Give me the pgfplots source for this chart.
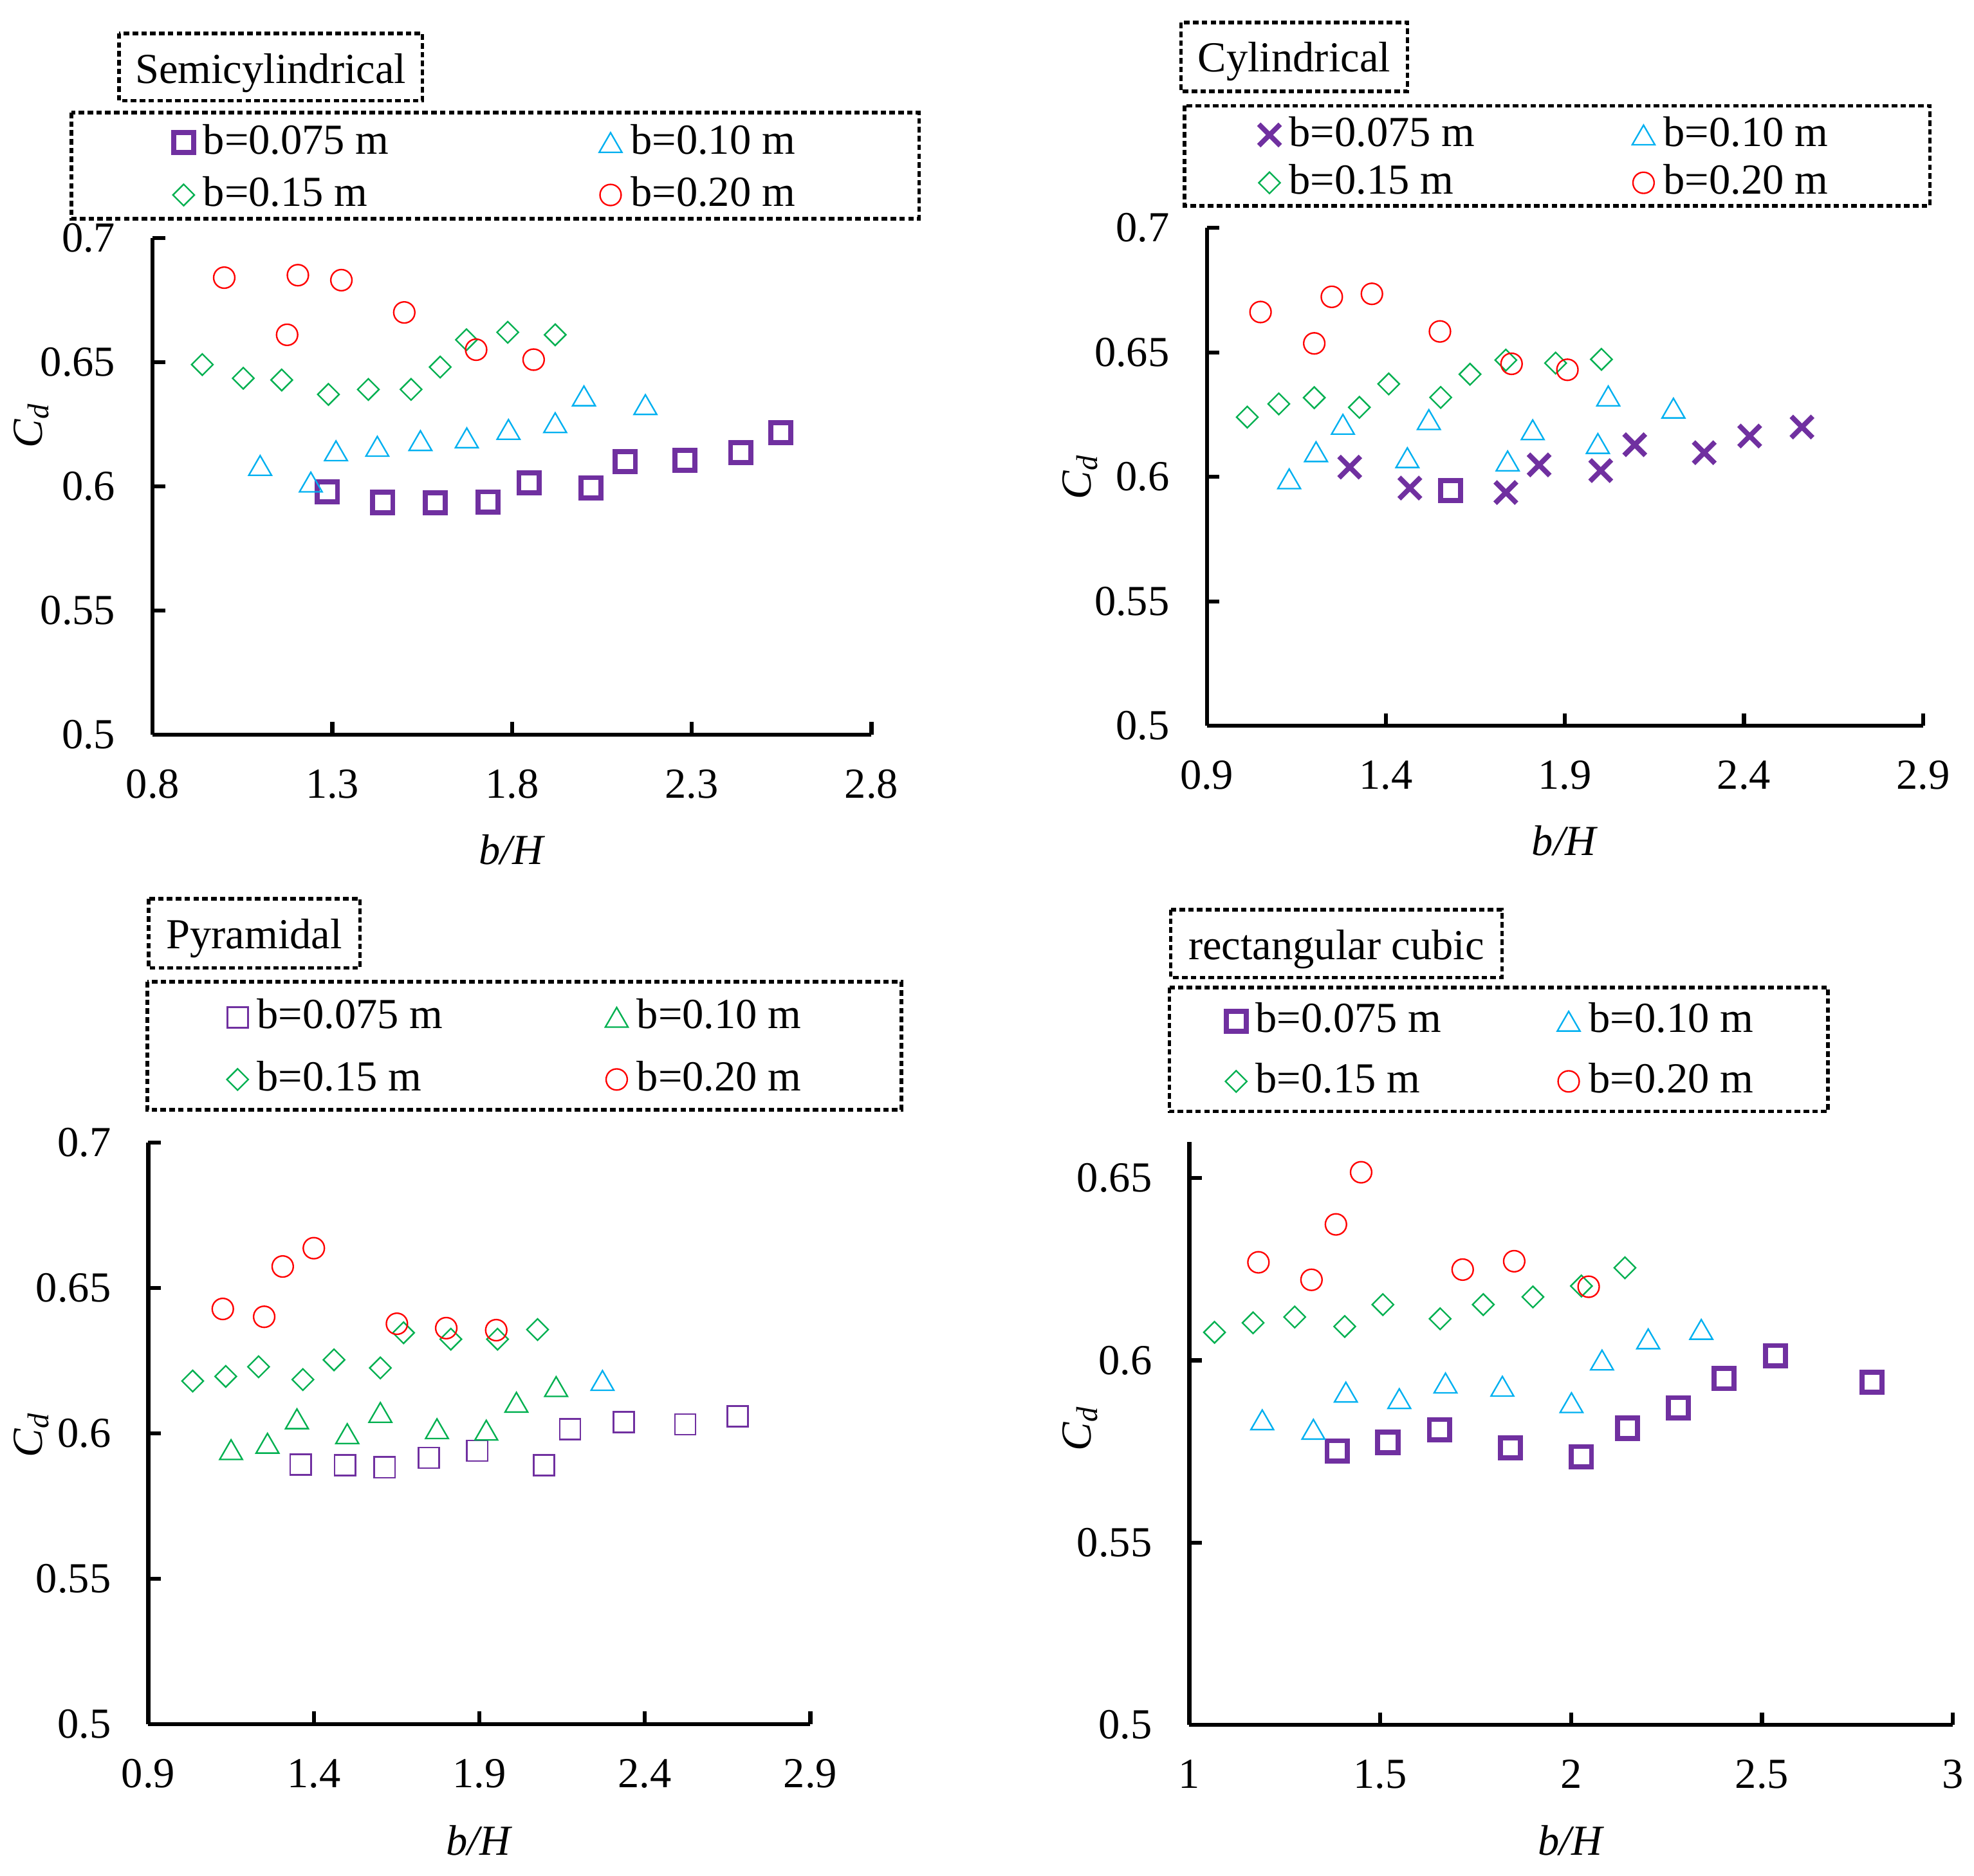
\documentclass[border=0pt]{standalone}
\usepackage{pgfplots}
\pgfplotsset{compat=1.18}
\usepackage{fontspec}
\setmainfont{Liberation Serif}
\definecolor{purp}{RGB}{112,48,160}
\definecolor{cyanx}{RGB}{0,176,240}
\definecolor{greenx}{RGB}{0,176,80}
\definecolor{redx}{RGB}{255,0,0}
\tikzset{dotbox/.style={draw=black, line width=1.4pt, dash pattern=on 2.2pt off 1.3pt}}
\pgfplotsset{
  myaxis/.style={
    scale only axis, axis lines*=left, clip=false,
    axis line style={line width=1.6pt, black, -},
    tick align=inside, major tick length=5pt,
    tick style={line width=1.6pt, black},
    /pgf/number format/assume math mode=true,
    ymin=0.5, ymax=0.7,
    ytick={0.5,0.55,0.6,0.65,0.7}, yticklabels={0.5,0.55,0.6,0.65,0.7},
    yticklabel style={xshift=-9pt},
    xticklabel style={yshift=-8pt},
    ylabel={\textit{C}\textsubscript{\textit{d}}},
    xlabel={\textit{b/H}},
    legend columns=2,
    legend style={draw=none, fill=none, inner sep=0pt, anchor=north west,
      nodes={inner xsep=3.5pt, inner ysep=0pt, text height=12.5pt, text depth=3.5pt}},
    legend image code/.code={\draw[#1] plot coordinates {(0pt,0pt)};},
    legend cell align=left,
    font=\fontsize{17}{20}\selectfont,
  },
  sqthick/.style={only marks, mark=square, mark size=4pt, draw=purp, mark options={line width=2pt, solid, fill=none}},
  xthick/.style={only marks, mark=x, mark size=6pt, draw=purp, mark options={line width=2pt, solid}},
  sqthin/.style={only marks, mark=square, mark size=4.1pt, draw=purp, mark options={line width=0.7pt, solid, fill=none}},
  tricy/.style={only marks, mark=triangle, mark size=5.2pt, draw=cyanx, mark options={line width=0.6pt, solid, fill=none, yshift=-1.3pt}},
  trigr/.style={only marks, mark=triangle, mark size=5.2pt, draw=greenx, mark options={line width=0.6pt, solid, fill=none, yshift=-1.3pt}},
  diagr/.style={only marks, mark=square, mark size=3pt, draw=greenx, mark options={line width=0.6pt, solid, fill=none, rotate=45}},
  cirrd/.style={only marks, mark=o, mark size=4.2pt, draw=redx, mark options={line width=0.6pt, solid, fill=none}},
}
\begin{document}
\begin{tikzpicture}
\path[use as bounding box] (0pt,0pt) rectangle (784pt,-745pt);
\fontsize{17}{20}\selectfont
% ---------------- Panel 1: Semicylindrical
\begin{axis}[myaxis, at={(60.65pt,-291.8pt)}, anchor=south west,
  width=285.45pt, height=197.3pt,
  xmin=0.8, xmax=2.8, xtick={0.8,1.3,1.8,2.3,2.8}, xticklabels={0.8,1.3,1.8,2.3,2.8},
  every axis y label/.style={at={(axis description cs:-0.169,0.622)}, rotate=90, anchor=center},
  every axis x label/.style={at={(axis description cs:0.5,-0.232)}, anchor=center},
  legend style={at={(axis description cs:0.0275,1.2337)},
    /tikz/every even column/.append style={column sep=80pt}, row sep=4.85pt}]
\addplot[sqthick] coordinates {(1.286,0.5978) (1.44,0.5935) (1.586,0.5933) (1.733,0.5937) (1.847,0.6014) (2.02,0.5994) (2.115,0.610) (2.281,0.6105) (2.436,0.6136) (2.548,0.6216)};
\addlegendentry{b=0.075 m}
\addplot[tricy] coordinates {(1.099,0.6084) (1.24,0.6017) (1.31,0.6143) (1.425,0.6161) (1.545,0.6184) (1.674,0.6195) (1.79,0.6229) (1.92,0.6256) (2.0,0.6364) (2.171,0.6329)};
\addlegendentry{b=0.10 m}
\addplot[diagr] coordinates {(0.938,0.649) (1.052,0.6435) (1.159,0.6428) (1.289,0.637) (1.4,0.639) (1.519,0.639) (1.6,0.648) (1.673,0.659) (1.788,0.662) (1.92,0.661)};
\addlegendentry{b=0.15 m}
\addplot[cirrd] coordinates {(0.999,0.684) (1.174,0.661) (1.204,0.685) (1.325,0.683) (1.5,0.670) (1.70,0.655) (1.86,0.651)};
\addlegendentry{b=0.20 m}
\end{axis}
% ---------------- Panel 2: Cylindrical
\begin{axis}[myaxis, at={(479.3pt,-288.3pt)}, anchor=south west,
  width=284.45pt, height=197.8pt,
  xmin=0.9, xmax=2.9, xtick={0.9,1.4,1.9,2.4,2.9}, xticklabels={0.9,1.4,1.9,2.4,2.9},
  every axis y label/.style={at={(axis description cs:-0.177,0.5)}, rotate=90, anchor=center},
  every axis x label/.style={at={(axis description cs:0.5,-0.231)}, anchor=center},
  legend style={at={(axis description cs:0.0719,1.228)},
    /tikz/every even column/.append style={column sep=59pt}, row sep=3pt}]
\addplot[xthick] coordinates {(1.299,0.6039) (1.467,0.5955) (1.735,0.5937) (1.828,0.6048) (2.0,0.6025) (2.095,0.6129) (2.289,0.6097) (2.416,0.6164) (2.562,0.62)};
\addlegendentry{b=0.075 m}
\addplot[tricy] coordinates {(1.13,0.5992) (1.205,0.6101) (1.28,0.6211) (1.46,0.6077) (1.52,0.623) (1.74,0.6064) (1.81,0.6189) (1.992,0.6134) (2.021,0.6325) (2.203,0.6276)};
\addlegendentry{b=0.10 m}
\addplot[diagr] coordinates {(1.013,0.624) (1.101,0.6293) (1.2,0.6318) (1.326,0.6279) (1.408,0.6373) (1.553,0.6319) (1.635,0.6412) (1.735,0.6469) (1.874,0.6457) (2.002,0.6472)};
\addlegendentry{b=0.15 m}
\addplot[cirrd] coordinates {(1.05,0.6662) (1.2,0.6536) (1.249,0.6723) (1.361,0.6735) (1.551,0.6584) (1.751,0.6454) (1.907,0.643)};
\addlegendentry{b=0.20 m}
\addplot[sqthick, forget plot] coordinates {(1.581,0.5945)};
\end{axis}
% ---------------- Panel 3: Pyramidal
\begin{axis}[myaxis, at={(58.9pt,-684.8pt)}, anchor=south west,
  width=262.95pt, height=230.95pt,
  xmin=0.9, xmax=2.9, xtick={0.9,1.4,1.9,2.4,2.9}, xticklabels={0.9,1.4,1.9,2.4,2.9},
  every axis y label/.style={at={(axis description cs:-0.1765,0.497)}, rotate=90, anchor=center},
  every axis x label/.style={at={(axis description cs:0.5,-0.2)}, anchor=center},
  legend style={at={(axis description cs:0.118,1.2511)},
    /tikz/every even column/.append style={column sep=61pt}, row sep=8.7pt}]
\addplot[sqthin] coordinates {(1.36,0.5893) (1.494,0.589) (1.614,0.5883) (1.748,0.5916) (1.894,0.594) (2.095,0.589) (2.174,0.6015) (2.336,0.6038) (2.522,0.6031) (2.681,0.6059)};
\addlegendentry{b=0.075 m}
\addplot[trigr] coordinates {(1.15,0.5944) (1.26,0.5966) (1.349,0.605) (1.501,0.5999) (1.601,0.6072) (1.772,0.6016) (1.921,0.6011) (2.012,0.6107) (2.132,0.6161)};
\addlegendentry{b=0.10 m}
\addplot[diagr] coordinates {(1.034,0.618) (1.134,0.6196) (1.233,0.6229) (1.367,0.6185) (1.461,0.6253) (1.601,0.6225) (1.671,0.6346) (1.814,0.6324) (1.955,0.6324) (2.076,0.6357)};
\addlegendentry{b=0.15 m}
\addplot[cirrd] coordinates {(1.125,0.6428) (1.25,0.6401) (1.306,0.6574) (1.4,0.6637) (1.651,0.6377) (1.8,0.6362) (1.951,0.6355)};
\addlegendentry{b=0.20 m}
\addplot[tricy, forget plot] coordinates {(2.272,0.6182)};
\end{axis}
% ---------------- Panel 4: rectangular cubic
\begin{axis}[myaxis, at={(472.35pt,-685.15pt)}, anchor=south west,
  width=303.25pt, height=231.7pt,
  ymin=0.5, ymax=0.66, ytick={0.5,0.55,0.6,0.65}, yticklabels={0.5,0.55,0.6,0.65},
  xmin=1, xmax=3, xtick={1,1.5,2,2.5,3}, xticklabels={1,1.5,2,2.5,3},
  every axis y label/.style={at={(axis description cs:-0.143,0.508)}, rotate=90, anchor=center},
  every axis x label/.style={at={(axis description cs:0.5,-0.198)}, anchor=center},
  legend style={at={(axis description cs:0.0467,1.2418)},
    /tikz/every even column/.append style={column sep=42.5pt}, row sep=7.9pt}]
\addplot[sqthick] coordinates {(1.387,0.5752) (1.52,0.5775) (1.655,0.581) (1.841,0.576) (2.027,0.5736) (2.148,0.5814) (2.281,0.587) (2.401,0.595) (2.535,0.6013) (2.788,0.594)};
\addlegendentry{b=0.075 m}
\addplot[tricy] coordinates {(1.191,0.5837) (1.325,0.5811) (1.41,0.5913) (1.55,0.5895) (1.671,0.5938) (1.82,0.5929) (2.001,0.5884) (2.081,0.6001) (2.202,0.6059) (2.341,0.6085)};
\addlegendentry{b=0.10 m}
\addplot[diagr] coordinates {(1.066,0.6077) (1.167,0.6103) (1.276,0.6119) (1.407,0.6093) (1.507,0.6153) (1.657,0.6114) (1.77,0.6153) (1.9,0.6174) (2.027,0.6204) (2.141,0.6254)};
\addlegendentry{b=0.15 m}
\addplot[cirrd] coordinates {(1.181,0.6269) (1.32,0.6221) (1.384,0.6373) (1.45,0.6516) (1.716,0.6249) (1.851,0.6272) (2.046,0.6202)};
\addlegendentry{b=0.20 m}
\end{axis}
% ---------------- boxes
\draw[dotbox] (28.35pt,-44.7pt) rectangle (365pt,-86.85pt);
\draw[dotbox] (470.5pt,-42pt) rectangle (766.5pt,-81.75pt);
\draw[dotbox] (58.5pt,-390pt) rectangle (358pt,-440.75pt);
\draw[dotbox] (464.5pt,-392.25pt) rectangle (726pt,-441.5pt);
\draw[dotbox] (47.25pt,-13.25pt) rectangle (167.8pt,-40pt);
\draw[dotbox] (469pt,-9pt) rectangle (559pt,-36.25pt);
\draw[dotbox] (59pt,-357pt) rectangle (143pt,-384.5pt);
\draw[dotbox] (465pt,-361.3pt) rectangle (596.5pt,-388.35pt);
\node[anchor=base, inner sep=0pt] at (107.5pt,-33pt) {Semicylindrical};
\node[anchor=base, inner sep=0pt] at (514pt,-28.5pt) {Cylindrical};
\node[anchor=base, inner sep=0pt] at (101pt,-376.9pt) {Pyramidal};
\node[anchor=base, inner sep=0pt] at (530.75pt,-381.1pt) {rectangular cubic};
\end{tikzpicture}
\end{document}
